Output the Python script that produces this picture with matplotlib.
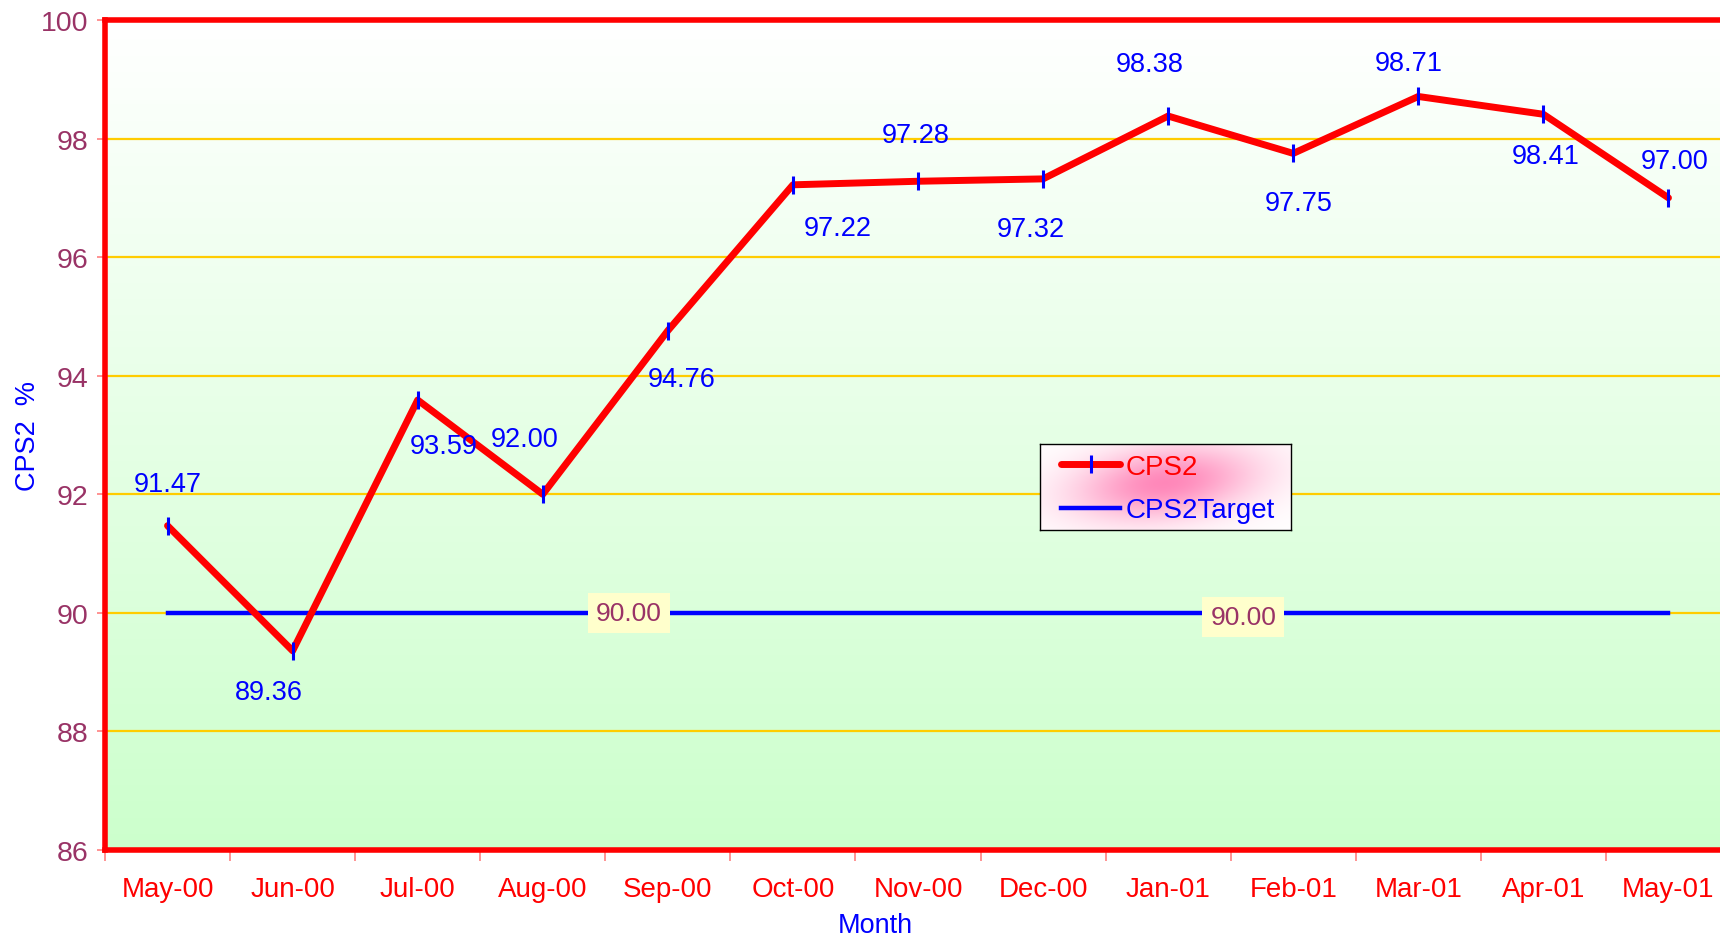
import matplotlib
matplotlib.use('Agg')
import matplotlib.pyplot as plt
import numpy as np

months = ['May-00', 'Jun-00', 'Jul-00', 'Aug-00', 'Sep-00', 'Oct-00', 'Nov-00',
          'Dec-00', 'Jan-01', 'Feb-01', 'Mar-01', 'Apr-01', 'May-01']
cps2 = [91.47, 89.36, 93.59, 92.00, 94.76, 97.22, 97.28, 97.32, 98.38, 97.75, 98.71, 98.41, 97.00]
target = [90.00] * 13
target_label_x = [3.69, 8.6]

# label offsets in pixels (dx, dy) from each point
offs = [(0, 42), (-24, -41), (26, -46), (-18, 55), (14, -48), (45, -43), (-2, 46),
        (-12, -50), (-18, 52), (5, -50), (-10, 33), (2, -42), (6, 37)]

plt.rcParams['font.family'] = ['Liberation Sans', 'DejaVu Sans']

W, H = 1720, 937
fig = plt.figure(figsize=(W / 100, H / 100), dpi=100)
ax = fig.add_axes([105 / W, 1 - 851 / H, (1731 - 105) / W, (851 - 21) / H])

xlo, xhi, ylo, yhi = -0.5, 12.5, 86, 100
grad = np.linspace(0, 1, 256).reshape(-1, 1, 1)
top = np.array([1.0, 1.0, 1.0])
bot = np.array([0.8, 1.0, 0.8])
img = top * (1 - grad) + bot * grad
ax.imshow(img, extent=[xlo, xhi, ylo, yhi], aspect='auto', origin='upper', zorder=0)

for y in range(88, 100, 2):
    ax.axhline(y, color='#FFCC00', lw=1.6, zorder=1)

x = np.arange(len(months))
ax.plot(x, cps2, color='red', lw=5, marker='|', markersize=13, markeredgewidth=2.2,
        markeredgecolor='blue', label='CPS2', zorder=4, solid_capstyle='round')
ax.plot(x, target, color='blue', lw=3.2, label='CPS2Target', zorder=3)

for i, v in enumerate(cps2):
    dx, dy = offs[i]
    ax.annotate('%.2f' % v, (i, v), xytext=(dx * 0.72, dy * 0.72), textcoords='offset points',
                ha='center', va='center', color='blue', fontsize=19.5, zorder=5)

for k, tx in enumerate(target_label_x):
    ax.text(tx, 90 - 0.07 * k, '90.00', ha='center', va='center', color='#993366', fontsize=19,
            zorder=5, bbox=dict(boxstyle='square,pad=0.3', fc='#FFFFCC', ec='none'))

ax.set_xlim(xlo, xhi)
ax.set_ylim(ylo, yhi)
ax.set_yticks(range(86, 101, 2))
ax.tick_params(axis='y', colors='#FF8080', labelcolor='#993366', labelsize=20.5, length=6, width=1.2, pad=6)
ax.set_xticks(np.arange(-0.5, 13, 1))
ax.set_xticklabels([])
ax.set_xticks(x, minor=True)
ax.set_xticklabels(months, minor=True)
ax.tick_params(axis='x', which='major', colors='#FF8080', length=8, width=1.2)
ax.tick_params(axis='x', which='minor', length=0, labelcolor='red', labelsize=20, pad=18.5)

for s in ax.spines.values():
    s.set_color('red')
    s.set_linewidth(4)

ax.set_xlabel('Month', color='blue', fontsize=19.5)
ax.xaxis.set_label_coords((798 * W / 1568 - 105) / 1626, -(913 - 851) / 830)
ax.set_ylabel('CPS2  %', color='blue', fontsize=19.5)
ax.yaxis.set_label_coords(-(105 - 41) / 1626, 0.5)

# legend box with pink glow
lx0, ly0, lx1, ly1 = 1040, 445, 1291, 531
gax = fig.add_axes([lx0 / W, 1 - ly1 / H, (lx1 - lx0) / W, (ly1 - ly0) / H], zorder=2)
u, v = np.meshgrid(np.linspace(0, 1, 300), np.linspace(0, 1, 100))
r2 = ((u - 0.5) / 0.36) ** 2 + ((v - 0.45 + 0.3 * (u - 0.5)) / 0.42) ** 2
a = 0.85 * np.exp(-1.0 * r2)
pink = np.array([1.0, 0.45, 0.68])
gimg = np.ones((100, 300, 3)) * (1 - a[..., None]) + pink * a[..., None]
gax.imshow(gimg, aspect='auto', extent=[0, 1, 0, 1])
gax.set_xticks([])
gax.set_yticks([])
for s in gax.spines.values():
    s.set_color('black')
    s.set_linewidth(1.0)

h, l = ax.get_legend_handles_labels()
leg = fig.legend(h, l, loc='upper left', bbox_to_anchor=((lx0 + 21) / W, 1 - (ly0 + 10) / H),
                 borderaxespad=0, borderpad=0, fontsize=20, frameon=False,
                 handlelength=2.13, labelspacing=0.62, handletextpad=0.2)
leg.texts[0].set_color('red')
leg.texts[1].set_color('blue')

fig.savefig('out.png', dpi=100)
